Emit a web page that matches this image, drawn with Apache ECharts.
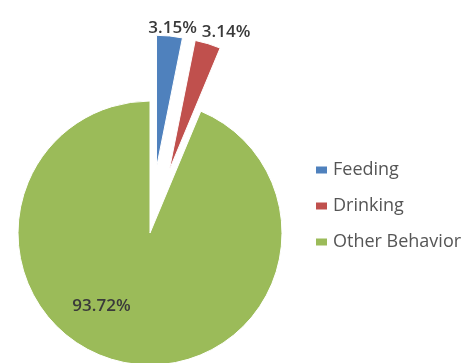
<!DOCTYPE html>
<html>
<head>
<meta charset="utf-8">
<script src="https://cdn.jsdelivr.net/npm/echarts@6/dist/echarts.min.js"></script>
<style>
  html, body { margin: 0; padding: 0; background: #ffffff; }
  #chart { width: 465px; height: 363px; }
</style>
</head>
<body>
<div id="chart"></div>
<script>
// Share of observed time per behaviour (percent)
const categories = ['Feeding', 'Drinking', 'Other Behavior'];
const shares = [3.15, 3.14, 93.72];
const colors = ['#4F81BD', '#C0504D', '#9BBB59'];
// Slices pulled out of the pie
const exploded = [true, true, false];

const chart = echarts.init(document.getElementById('chart'), null, { renderer: 'canvas' });

const labelFont = { fontFamily: 'Open Sans', fontSize: 17, fontWeight: 600, color: '#3a3a3a' };

const data = categories.map((name, i) => {
  const item = {
    name: name,
    value: shares[i],
    selected: exploded[i],
    itemStyle: { color: colors[i] }
  };
  if (!exploded[i]) item.label = Object.assign({ position: 'inside' }, labelFont);
  return item;
});

chart.setOption({
  animation: false,
  legend: {
    orient: 'vertical',
    left: 309,
    top: 156,
    itemWidth: 13,
    itemHeight: 9,
    itemGap: 18,
    icon: 'rect',
    textStyle: { fontFamily: 'Open Sans', fontSize: 18, color: '#555' },
    data: categories
  },
  series: [{
    type: 'pie',
    center: [150, 233],
    radius: 132,
    startAngle: 90,
    clockwise: true,
    selectedMode: 'multiple',
    selectedOffset: 66,
    avoidLabelOverlap: false,
    itemStyle: { borderColor: '#fff', borderWidth: 1 },
    emphasis: { disabled: true },
    label: Object.assign({
      show: true,
      position: 'outside',
      formatter: p => p.value.toFixed(2) + '%'
    }, labelFont),
    labelLine: { show: false, length: 0, length2: 0 },
    labelLayout: function (p) {
      if (p.dataIndex === 0) return { dx: -2, dy: -8, align: 'center' };
      if (p.dataIndex === 1) return { dx: -11, dy: -11 };
      return { dx: -35, dy: 5 };
    },
    data: data
  }]
});
</script>
</body>
</html>
